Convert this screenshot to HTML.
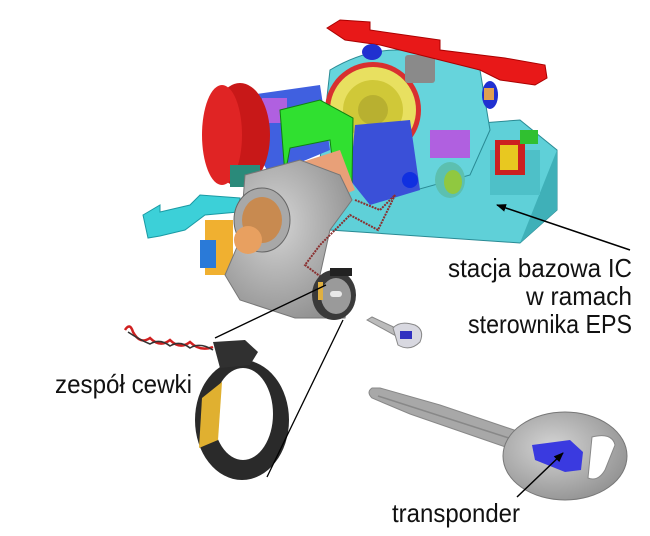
<!DOCTYPE html>
<html><head><meta charset="utf-8"><style>
html,body{margin:0;padding:0;background:#fff;}
svg{display:block;}
text{font-family:"Liberation Sans Narrow","Liberation Sans",sans-serif;fill:#111;}
</style></head><body>
<svg width="650" height="536" viewBox="0 0 650 536" xmlns="http://www.w3.org/2000/svg">
<defs>
<marker id="ah" markerWidth="10" markerHeight="10" refX="9" refY="5" orient="auto" markerUnits="userSpaceOnUse">
<path d="M0,1 L10,5 L0,9 Z" fill="#000"/></marker>
<radialGradient id="gk" cx="0.4" cy="0.4" r="0.7"><stop offset="0" stop-color="#d4d4d4"/><stop offset="1" stop-color="#8e8e8e"/></radialGradient>
</defs>
<!-- cyan base -->
<path d="M327,135 L520,120 L557,150 L557,210 L520,243 L330,230 Z" fill="#5fd0d8" stroke="#2a8a94" stroke-width="1"/>
<path d="M520,243 L557,210 L557,150" fill="#3fb0b8"/>
<rect x="490" y="150" width="50" height="45" fill="#4ec0c8"/>
<rect x="495" y="140" width="30" height="35" fill="#cc2020"/>
<rect x="500" y="145" width="18" height="25" fill="#e8c820"/>
<rect x="520" y="130" width="18" height="14" fill="#30c030"/>
<!-- cyan main housing -->
<path d="M330,70 Q380,40 430,55 L480,70 L490,130 L470,175 L380,200 L320,160 Z" fill="#66d4dc" stroke="#2a8a94"/>
<circle cx="373" cy="110" r="48" fill="#d83030"/>
<circle cx="373" cy="110" r="43" fill="#e8e060"/>
<circle cx="373" cy="110" r="30" fill="#d0c838"/>
<circle cx="373" cy="110" r="15" fill="#b8b030"/>
<rect x="405" y="55" width="30" height="28" fill="#8a8a8a" rx="3"/>
<!-- red bracket -->
<path d="M327,28 L340,20 L370,22 L370,30 L440,40 L440,50 L505,58 L545,65 L547,78 L535,85 L500,80 L480,70 L440,60 L380,45 L345,40 Z" fill="#e81818" stroke="#a00" stroke-width="1"/>
<ellipse cx="372" cy="52" rx="10" ry="8" fill="#2030d0"/>
<ellipse cx="490" cy="95" rx="8" ry="14" fill="#2030d0"/>
<rect x="484" y="88" width="10" height="12" fill="#e0a050"/>
<!-- blue/purple parts -->
<path d="M250,95 L320,85 L330,150 L270,175 L255,150 Z" fill="#4060e0"/>
<path d="M355,125 L410,120 L420,190 L370,205 L350,180 Z" fill="#3a50d8"/>
<rect x="430" y="130" width="40" height="28" fill="#b060e0"/>
<rect x="262" y="98" width="25" height="25" fill="#b060e0"/>
<ellipse cx="450" cy="180" rx="15" ry="18" fill="#5cc0b0"/>
<ellipse cx="453" cy="182" rx="9" ry="12" fill="#90c840"/>
<circle cx="410" cy="180" r="8" fill="#1030e0"/>
<!-- red cylinder -->
<ellipse cx="240" cy="135" rx="30" ry="52" fill="#c81818"/>
<ellipse cx="222" cy="135" rx="20" ry="50" fill="#e02424"/>
<rect x="230" y="165" width="30" height="22" fill="#2a8a7a"/>
<!-- green bracket -->
<path d="M280,110 L320,100 L353,118 L352,183 L335,185 L330,140 L290,148 L285,175 Z" fill="#30e030" stroke="#108010"/>
<!-- peach shaft -->
<path d="M277,170 L340,150 L355,190 L295,215 Z" fill="#e8a078"/>
<!-- cyan lever -->
<path d="M143,215 L160,205 L160,212 L190,205 L200,195 L240,198 L238,212 L205,215 L185,230 L160,236 L148,238 Z" fill="#3cd0d8" stroke="#1a9aa4"/>
<!-- orange / blue block -->
<rect x="205" y="220" width="28" height="55" fill="#f0b030"/>
<rect x="200" y="240" width="16" height="28" fill="#2a7ad8"/>
<!-- gray housing -->
<path d="M245,175 L300,160 L340,175 L352,200 L330,230 L320,275 L350,290 L345,318 L295,318 L240,300 L225,275 L240,240 Z" fill="url(#gk)" stroke="#777"/>
<ellipse cx="262" cy="220" rx="28" ry="32" fill="#a8a8a8" stroke="#666"/>
<ellipse cx="262" cy="220" rx="20" ry="23" fill="#c88a50"/>
<ellipse cx="248" cy="240" rx="14" ry="14" fill="#e8a060"/>
<!-- brown wire -->
<path d="M355,200 L380,210 L395,195 L378,230 L350,215 L320,245 L305,265 L325,280" fill="none" stroke="#8a3030" stroke-width="2" stroke-dasharray="2,1"/>
<!-- lock face -->
<ellipse cx="334" cy="295" rx="22" ry="25" fill="#3a3a3a"/>
<ellipse cx="336" cy="296" rx="15" ry="18" fill="#9a9a9a"/>
<rect x="330" y="291" width="12" height="6" rx="3" fill="#e8e8e8"/>
<rect x="318" y="282" width="5" height="18" fill="#e0b040"/>
<rect x="330" y="268" width="22" height="8" fill="#222"/>
<!-- coil wire -->
<path d="M125,330 Q130,322 133,332 Q140,345 150,338 Q160,348 170,340 Q180,350 190,342 Q200,352 213,347" fill="none" stroke="#d02020" stroke-width="2.5"/>
<path d="M128,332 Q140,340 150,344 Q160,338 170,346 Q180,340 190,348 Q200,342 213,350" fill="none" stroke="#333" stroke-width="1.5"/>
<!-- coil ring -->
<ellipse cx="242" cy="420" rx="47" ry="60" fill="#2a2a2a"/>
<ellipse cx="243" cy="414" rx="30" ry="46" fill="#fff"/>
<path d="M213,342 L245,340 L258,352 L250,365 L220,368 Z" fill="#303030"/>
<path d="M202,398 L222,382 L218,440 L199,448 Z" fill="#e0b030"/>
<!-- small key -->
<path d="M367,320 L372,317 L400,330 L396,336 Z" fill="#bbb" stroke="#888"/>
<path d="M393,328 Q400,320 415,325 Q425,330 420,342 Q410,352 398,345 Z" fill="#d8d8e0" stroke="#888"/>
<rect x="400" y="331" width="12" height="8" fill="#3030c0"/>
<!-- big key -->
<path d="M372,388 Q366,392 372,398 L410,414 L520,452 L520,432 L440,405 L380,388 Z" fill="#a8a8a8" stroke="#888"/>
<path d="M378,396 L515,440" stroke="#888" stroke-width="1.5"/>
<ellipse cx="565" cy="456" rx="62" ry="44" fill="url(#gk)" stroke="#777"/>
<path d="M592,437 Q612,432 615,445 L605,470 Q598,482 588,478 Z" fill="#fff" stroke="#888"/>
<path d="M532,445 L570,440 L583,452 L581,470 L565,472 L535,460 Z" fill="#3a3ae0"/>
<!-- leader lines -->
<line x1="215" y1="338" x2="326" y2="285" stroke="#000" stroke-width="1.3"/>
<line x1="267" y1="477" x2="343" y2="320" stroke="#000" stroke-width="1.3"/>
<line x1="630" y1="250" x2="497" y2="205" stroke="#000" stroke-width="1.5" marker-end="url(#ah)"/>
<line x1="517" y1="497" x2="563" y2="453" stroke="#000" stroke-width="1.5" marker-end="url(#ah)"/>
<!-- labels -->
<text x="632" y="277" font-size="26" text-anchor="end" textLength="184" lengthAdjust="spacingAndGlyphs">stacja bazowa IC</text>
<text x="632" y="305" font-size="26" text-anchor="end" textLength="106" lengthAdjust="spacingAndGlyphs">w ramach</text>
<text x="632" y="333" font-size="26" text-anchor="end" textLength="164" lengthAdjust="spacingAndGlyphs">sterownika EPS</text>
<text x="55" y="393" font-size="26" textLength="137" lengthAdjust="spacingAndGlyphs">zespół cewki</text>
<text x="392" y="522" font-size="26" textLength="128" lengthAdjust="spacingAndGlyphs">transponder</text>
</svg>
</body></html>
